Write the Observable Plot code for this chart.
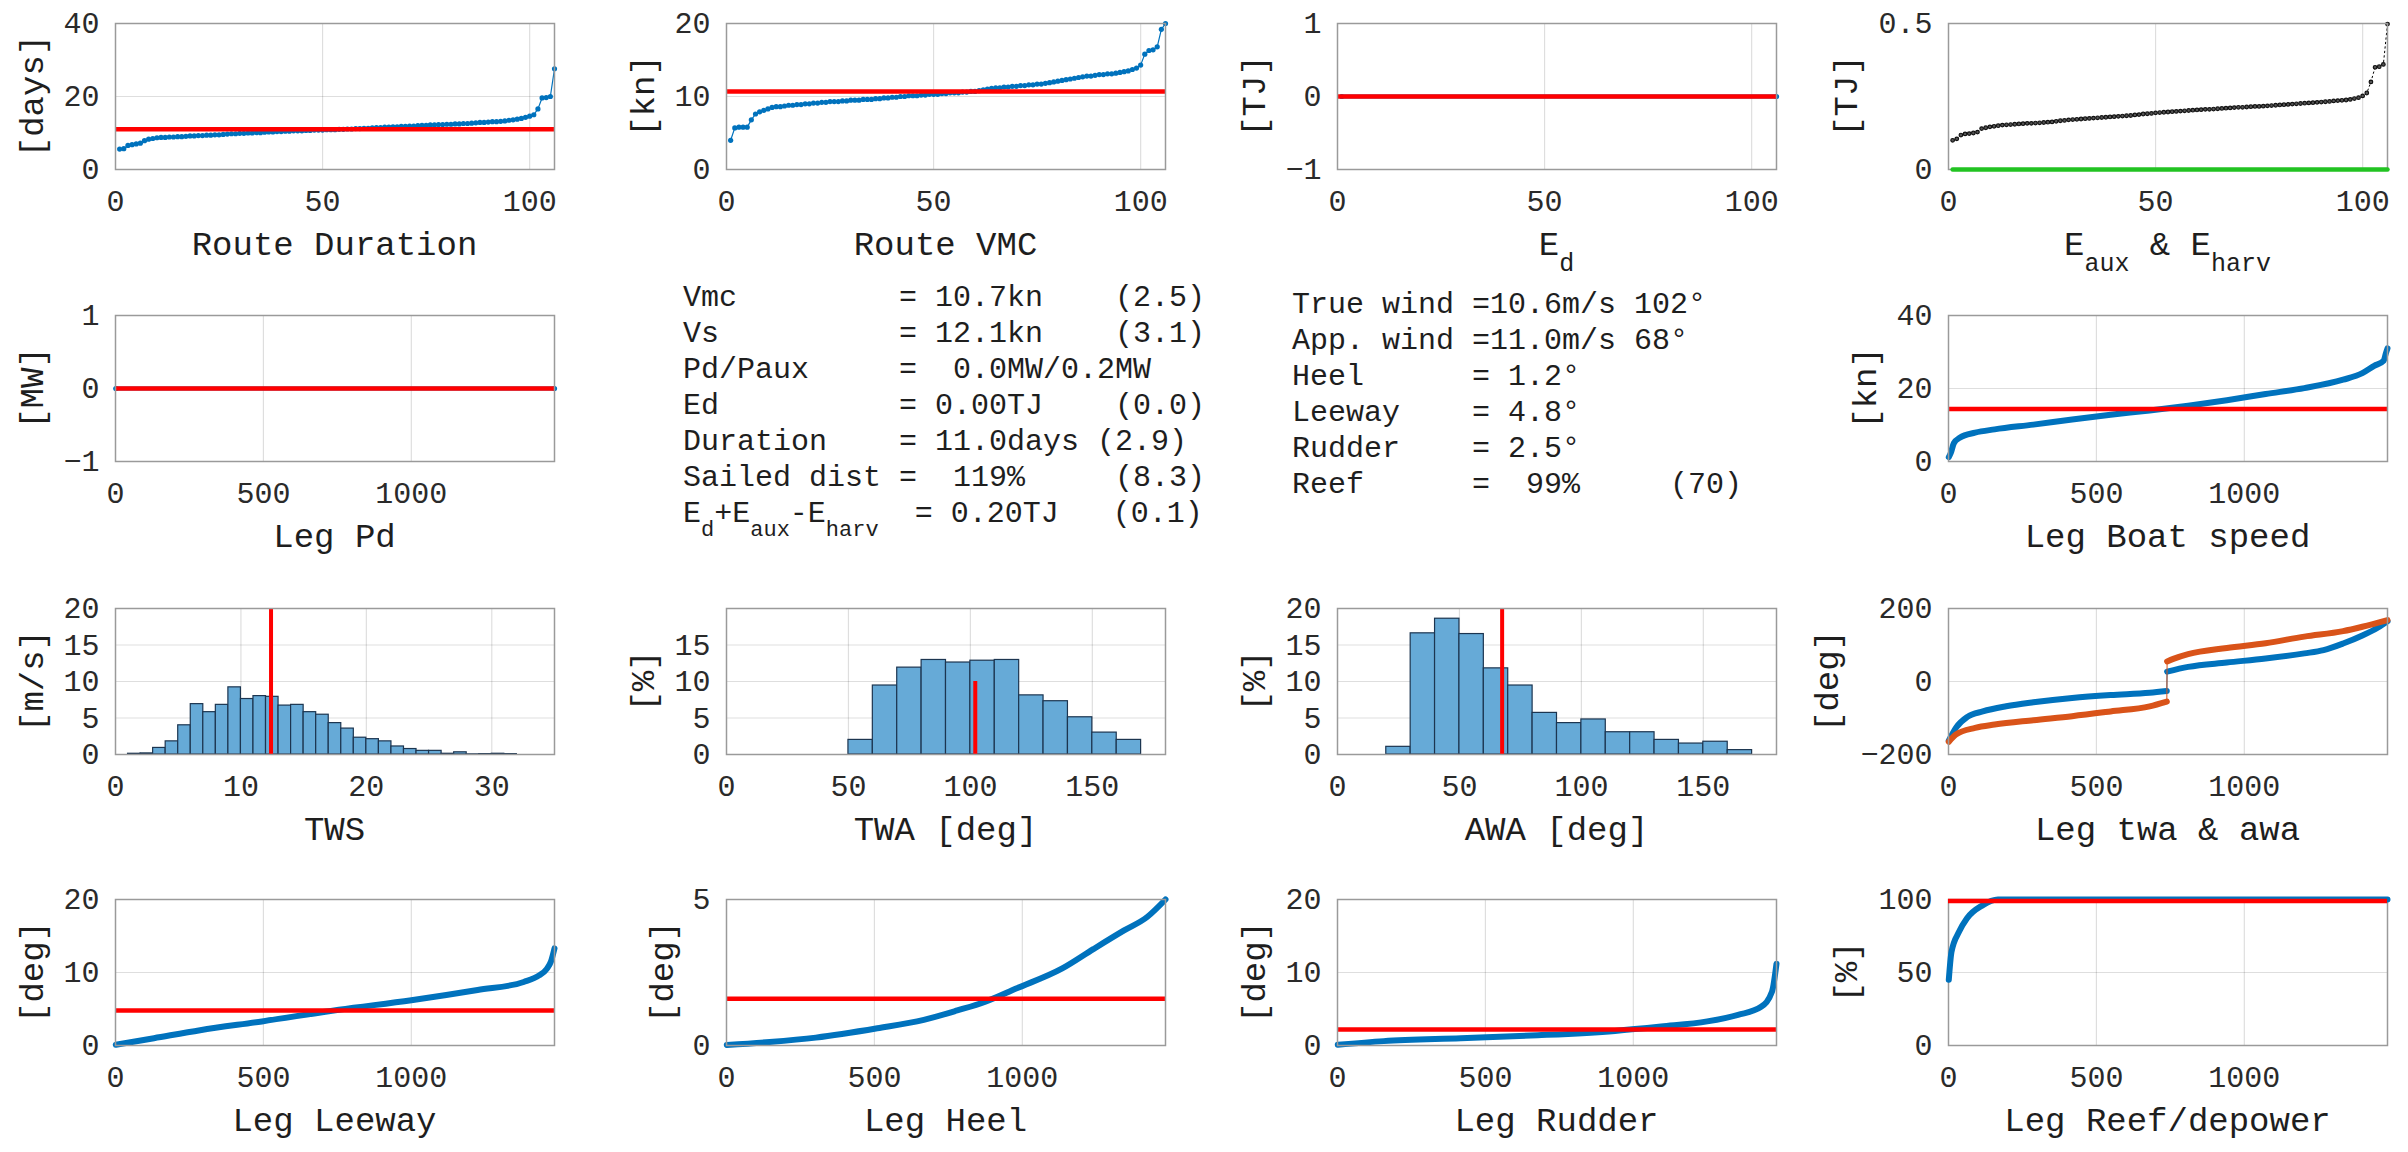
<!DOCTYPE html>
<html><head><meta charset="utf-8">
<script src="https://cdn.jsdelivr.net/npm/d3@7"></script>
<script src="https://cdn.jsdelivr.net/npm/@observablehq/plot@0.6"></script>
<style>
html,body{margin:0;padding:0;background:#fff;width:2408px;height:1152px;overflow:hidden;}
#fig{position:relative;width:2408px;height:1152px;background:#fff;}
</style></head><body><div id="fig"></div>
<script>
// ---------------- DATA ----------------
const routeDuration = [5.6,5.7,6.6,6.8,7.0,7.2,7.9,8.3,8.5,8.7,
 8.8,8.8,8.9,8.9,9.0,9.0,9.1,9.2,9.2,9.3,
 9.3,9.4,9.4,9.5,9.5,9.6,9.7,9.8,9.8,9.9,
 9.9,10.0,10.0,10.1,10.1,10.2,10.3,10.3,10.4,10.4,
 10.5,10.5,10.6,10.6,10.6,10.7,10.7,10.8,10.8,10.8,
 10.9,10.9,10.9,11.0,11.0,11.1,11.1,11.2,11.2,11.3,
 11.3,11.4,11.5,11.5,11.6,11.6,11.7,11.7,11.8,11.8,
 11.9,11.9,12.0,12.1,12.1,12.2,12.2,12.3,12.3,12.4,
 12.4,12.5,12.5,12.6,12.6,12.7,12.8,12.9,12.9,13.0,
 13.1,13.1,13.2,13.3,13.5,13.6,13.8,14.0,14.3,14.6,
 15.0,16.6,19.6,19.7,20.0,27.6];
const durationMean = 11.0;

const routeVMC = [4.0,5.7,5.8,5.8,5.8,6.8,7.6,7.9,8.1,8.3,
 8.5,8.6,8.6,8.7,8.8,8.8,8.9,8.9,9.0,9.0,
 9.1,9.1,9.2,9.2,9.3,9.3,9.3,9.4,9.4,9.5,
 9.5,9.5,9.6,9.6,9.6,9.7,9.7,9.8,9.8,9.9,
 9.9,10.0,10.0,10.1,10.1,10.1,10.2,10.2,10.3,10.3,
 10.3,10.4,10.4,10.5,10.5,10.5,10.6,10.6,10.7,10.7,
 10.8,10.9,11.0,11.1,11.2,11.2,11.3,11.3,11.4,11.4,
 11.5,11.5,11.6,11.6,11.7,11.7,11.8,11.9,12.0,12.1,
 12.2,12.3,12.4,12.5,12.6,12.7,12.8,12.8,12.9,13.0,
 13.0,13.1,13.1,13.2,13.3,13.4,13.5,13.7,13.9,14.3,
 15.8,16.3,16.4,16.8,19.2,20.0];
const vmcMean = 10.7;

const routeEdIdx = [1, 106];
const routeEdVal = [0, 0];
const edMean = 0;

const routeEaux = [0.100,0.105,0.118,0.122,0.123,0.125,0.128,0.140,0.143,0.146,
 0.148,0.150,0.152,0.153,0.154,0.155,0.156,0.157,0.158,0.158,
 0.159,0.160,0.161,0.162,0.163,0.165,0.167,0.168,0.170,0.171,
 0.172,0.173,0.174,0.175,0.176,0.177,0.178,0.179,0.180,0.181,
 0.182,0.183,0.184,0.185,0.187,0.188,0.190,0.191,0.192,0.194,
 0.195,0.196,0.197,0.198,0.199,0.200,0.201,0.202,0.203,0.204,
 0.205,0.206,0.206,0.207,0.208,0.209,0.210,0.211,0.212,0.213,
 0.213,0.214,0.215,0.216,0.216,0.217,0.218,0.219,0.220,0.221,
 0.222,0.223,0.224,0.225,0.226,0.227,0.228,0.229,0.230,0.231,
 0.232,0.233,0.235,0.236,0.237,0.238,0.240,0.243,0.246,0.252,
 0.262,0.300,0.350,0.352,0.360,0.498];
const routeEharvIdx = [1, 106];
const routeEharvVal = [0, 0];

const legN = 1484;
const legPdIdx = [1, 1484];
const legPdVal = [0, 0];
const pdMean = 0;

const boatIdx = [1, 8, 18, 38, 90, 156, 287, 418, 548, 680, 810, 941, 1072, 1203, 1334, 1399, 1439, 1471, 1478, 1484];
const boatVal = [1.2, 2.4, 5.0, 6.5, 7.9, 8.8, 10.1, 11.5, 12.8, 14.0, 15.3, 16.8, 18.5, 20.1, 22.4, 24.2, 26.2, 27.6, 29.5, 31.0];
const boatMean = 14.4;

const twsBinStart = [1,2,3,4,5,6,7,8,9,10,11,12,13,14,15,16,17,18,19,20,21,22,23,24,25,26,27,28,29,30,31];
const twsPct = [0.1,0.15,0.9,1.8,4.0,6.9,5.8,6.8,9.2,7.6,8.0,7.9,6.7,6.8,5.8,5.45,4.3,3.55,2.3,2.1,1.8,1.1,0.75,0.5,0.5,0.1,0.3,0.02,0.05,0.1,0.05];
const twsBinWidth = 1;
const twsMean = 12.4;

const twaBinStart = [50,60,70,80,90,100,110,120,130,140,150,160];
const twaPct = [2.0,9.45,11.9,12.95,12.6,12.85,12.95,8.1,7.3,5.1,3.0,2.0];
const twaBinWidth = 10;
const twaMean = 102, twaMeanHeight = 10;

const awaBinStart = [20,30,40,50,60,70,80,90,100,110,120,130,140,150,160];
const awaPct = [1.05,16.6,18.6,16.5,11.8,9.45,5.7,4.3,4.8,3.05,3.05,2.0,1.5,1.75,0.6];
const awaBinWidth = 10;
const awaMean = 67.5;

const twaLegIdx = [1, 25, 64, 116, 195, 287, 418, 548, 680, 738, 739, 810, 941, 1072, 1203, 1268, 1334, 1399, 1452, 1484];
const twaLegVal = [-162, -127, -97, -82, -68, -57, -45, -37, -31, -26, 27, 40, 52, 63, 77, 86, 104, 126, 148, 165];
const awaLegIdx = [1, 25, 90, 156, 287, 418, 548, 680, 738, 739, 760, 810, 941, 1072, 1203, 1334, 1399, 1484];
const awaLegVal = [-165, -145, -127, -118, -106, -95, -82, -68, -55, 55, 62, 75, 92, 105, 123, 138, 150, 168];
const tackIdx = 738;

const leewayIdx = [1, 130, 286, 495, 755, 1000, 1224, 1380, 1432, 1458, 1472, 1484];
const leewayVal = [0.1, 1.0, 2.1, 3.3, 4.9, 6.2, 7.6, 8.7, 9.6, 10.5, 11.5, 13.3];
const leewayMean = 4.8;

const heelIdx = [1, 146, 302, 510, 667, 780, 875, 979, 1135, 1240, 1344, 1422, 1484];
const heelVal = [0.02, 0.12, 0.27, 0.59, 0.88, 1.2, 1.5, 1.95, 2.64, 3.3, 3.94, 4.4, 5.0];
const heelMean = 1.6;

const rudderIdx = [1, 156, 417, 677, 938, 1094, 1250, 1354, 1432, 1469, 1484];
const rudderVal = [0.1, 0.6, 1.0, 1.4, 2.0, 2.6, 3.3, 4.2, 5.3, 7.4, 11.2];
const rudderMean = 2.2;

const reefIdx = [1, 10, 36, 62, 115, 167, 1484];
const reefVal = [45, 64, 78, 87, 96, 100, 100];
const reefMean = 99;

const statsLeft = [
 "Vmc         = 10.7kn    (2.5)",
 "Vs          = 12.1kn    (3.1)",
 "Pd/Paux     =  0.0MW/0.2MW",
 "Ed          = 0.00TJ    (0.0)",
 "Duration    = 11.0days (2.9)",
 "Sailed dist =  119%     (8.3)",
 "E_{d}+E_{aux}-E_{harv}  = 0.20TJ   (0.1)"
];
const statsRight = [
 "True wind =10.6m/s 102°",
 "App. wind =11.0m/s 68°",
 "Heel      = 1.2°",
 "Leeway    = 4.8°",
 "Rudder    = 2.5°",
 "Reef      =  99%     (70)"
];

// ---------------- LAYOUT / STYLE ----------------
const FONT = '"Courier New", "Liberation Mono", monospace';
const BLUE = "#0072BD", ORANGE = "#D95319", RED = "#FF0000", GREEN = "#22C322";
const HISTFILL = "#66AAD7", HISTEDGE = "#1c3550";
const COLS = [115, 726, 1337, 1948], ROWS = [23, 315, 608, 899], FW = 439, FH = 146;
const ML = 130, MR = 50, MT = 14, MB = 64;
const fig = document.getElementById("fig");
const fmt = d => (d < 0 ? "\u2212" + (-d) : String(d));
const labels = [];

const zipIdx = (idx, val) => idx.map((i, k) => ({i, v: val[k]}));
const seq = arr => arr.map((v, k) => ({i: k + 1, v}));
const bins = (start, pct, w) => start.map((s, k) => ({x1: s, x2: s + w, v: pct[k]}));

function panel(c, r, o) {
  const gx = o.xTicks.filter(t => t > o.xDomain[0] && t < o.xDomain[1]);
  const gy = o.yTicks.filter(t => t > o.yDomain[0] && t < o.yDomain[1]);
  const svg = Plot.plot({
    width: ML + FW + MR, height: MT + FH + MB,
    marginLeft: ML, marginRight: MR, marginTop: MT, marginBottom: MB,
    style: {background: "transparent", fontFamily: FONT, fontSize: "30px", color: "#2a2a2a", overflow: "visible"},
    x: {domain: o.xDomain, ticks: o.xTicks, tickSize: 0, tickPadding: 20, label: null, tickFormat: fmt},
    y: {domain: o.yDomain, ticks: o.yTicks, tickSize: 0, tickPadding: 16, label: null, tickFormat: fmt},
    marks: [
      Plot.ruleX(gx, {stroke: "#000", strokeOpacity: 0.13, strokeWidth: 1.2}),
      Plot.ruleY(gy, {stroke: "#000", strokeOpacity: 0.13, strokeWidth: 1.2}),
      ...o.marks,
      Plot.frame({stroke: "#9a9a9a", strokeWidth: 1.5}),
      ...(o.topMarks || [])
    ]
  });
  svg.style.position = "absolute";
  svg.style.left = (COLS[c] - ML) + "px";
  svg.style.top = (ROWS[r] - MT) + "px";
  fig.appendChild(svg);
  labels.push({c, r, xl: o.xLabel, yl: o.yLabel, yOff: 46 + 19 * Math.max(...o.yTicks.map(t => fmt(t).length))});
}

const routeX = {xDomain: [0, 106], xTicks: [0, 50, 100]};
const legX = {xDomain: [0, legN], xTicks: [0, 500, 1000]};
const routeMarks = (data, mean) => [
  Plot.line(data, {x: "i", y: "v", stroke: BLUE, strokeWidth: 1.2}),
  Plot.dot(data, {x: "i", y: "v", r: 2.6, fill: BLUE}),
  Plot.ruleY([mean], {stroke: RED, strokeWidth: 4.5})
];
const legMarks = (data, mean) => [
  Plot.line(data, {x: "i", y: "v", stroke: BLUE, strokeWidth: 6, curve: "monotone-x", strokeLinecap: "round"}),
  Plot.ruleY([mean], {stroke: RED, strokeWidth: 4.5})
];
const histMarks = (data) => [
  Plot.rectY(data, {x1: "x1", x2: "x2", y: "v", fill: HISTFILL, stroke: HISTEDGE, strokeWidth: 1.2})
];

// Row 1
panel(0, 0, {...routeX, yDomain: [0, 40], yTicks: [0, 20, 40], xLabel: "Route Duration", yLabel: "[days]",
  marks: routeMarks(seq(routeDuration), durationMean)});
panel(1, 0, {...routeX, yDomain: [0, 20], yTicks: [0, 10, 20], xLabel: "Route VMC", yLabel: "[kn]",
  marks: routeMarks(seq(routeVMC), vmcMean)});
panel(2, 0, {...routeX, yDomain: [-1, 1], yTicks: [-1, 0, 1], xLabel: "E_{d}", yLabel: "[TJ]",
  marks: [
    Plot.line(zipIdx(routeEdIdx, routeEdVal), {x: "i", y: "v", stroke: BLUE, strokeWidth: 4}),
    Plot.dot(zipIdx(routeEdIdx, routeEdVal), {x: "i", y: "v", r: 2.6, fill: BLUE}),
    Plot.ruleY([edMean], {stroke: RED, strokeWidth: 4.5})
  ]});
panel(3, 0, {...routeX, yDomain: [0, 0.5], yTicks: [0, 0.5], xLabel: "E_{aux} & E_{harv}", yLabel: "[TJ]",
  marks: [
    Plot.line(seq(routeEaux), {x: "i", y: "v", stroke: "#000", strokeWidth: 1, strokeDasharray: "1.5,3"}),
    Plot.dot(seq(routeEaux), {x: "i", y: "v", r: 1.8, stroke: "#111", strokeWidth: 1.2, fill: "#555"})
  ],
  topMarks: [
    Plot.line(zipIdx(routeEharvIdx, routeEharvVal), {x: "i", y: "v", stroke: GREEN, strokeWidth: 4.5})
  ]});

// Row 2
panel(0, 1, {...legX, yDomain: [-1, 1], yTicks: [-1, 0, 1], xLabel: "Leg Pd", yLabel: "[MW]",
  marks: [
    Plot.line(zipIdx(legPdIdx, legPdVal), {x: "i", y: "v", stroke: BLUE, strokeWidth: 4}),
    Plot.dot(zipIdx(legPdIdx, legPdVal), {x: "i", y: "v", r: 2.6, fill: BLUE}),
    Plot.ruleY([pdMean], {stroke: RED, strokeWidth: 4.5})
  ]});
panel(3, 1, {...legX, yDomain: [0, 40], yTicks: [0, 20, 40], xLabel: "Leg Boat speed", yLabel: "[kn]",
  marks: legMarks(zipIdx(boatIdx, boatVal), boatMean)});

// Row 3
panel(0, 2, {xDomain: [0, 35], xTicks: [0, 10, 20, 30], yDomain: [0, 20], yTicks: [0, 5, 10, 15, 20], xLabel: "TWS", yLabel: "[m/s]",
  marks: [...histMarks(bins(twsBinStart, twsPct, twsBinWidth)), Plot.ruleX([twsMean], {stroke: RED, strokeWidth: 4})]});
panel(1, 2, {xDomain: [0, 180], xTicks: [0, 50, 100, 150], yDomain: [0, 20], yTicks: [0, 5, 10, 15], xLabel: "TWA [deg]", yLabel: "[%]",
  marks: [...histMarks(bins(twaBinStart, twaPct, twaBinWidth)),
    Plot.ruleX([{x: twaMean, h: twaMeanHeight}], {x: "x", y1: 0, y2: "h", stroke: RED, strokeWidth: 4})]});
panel(2, 2, {xDomain: [0, 180], xTicks: [0, 50, 100, 150], yDomain: [0, 20], yTicks: [0, 5, 10, 15, 20], xLabel: "AWA [deg]", yLabel: "[%]",
  marks: [...histMarks(bins(awaBinStart, awaPct, awaBinWidth)), Plot.ruleX([awaMean], {stroke: RED, strokeWidth: 4})]});
const twaLeg = zipIdx(twaLegIdx, twaLegVal).map(d => ({...d, seg: d.i > tackIdx ? 1 : 0}));
const awaLeg = zipIdx(awaLegIdx, awaLegVal).map(d => ({...d, seg: d.i > tackIdx ? 1 : 0}));
const jump = arr => arr.filter((d, k) => (d.seg === 0 && arr[k + 1] && arr[k + 1].seg === 1) || (d.seg === 1 && arr[k - 1] && arr[k - 1].seg === 0));
panel(3, 2, {...legX, yDomain: [-200, 200], yTicks: [-200, 0, 200], xLabel: "Leg twa & awa", yLabel: "[deg]",
  marks: [
    Plot.line(twaLeg, {x: "i", y: "v", z: "seg", stroke: BLUE, strokeWidth: 6, curve: "monotone-x", strokeLinecap: "round"}),
    Plot.line(jump(twaLeg), {x: "i", y: "v", stroke: BLUE, strokeWidth: 1}),
    Plot.line(awaLeg, {x: "i", y: "v", z: "seg", stroke: ORANGE, strokeWidth: 6, curve: "monotone-x", strokeLinecap: "round"}),
    Plot.line(jump(awaLeg), {x: "i", y: "v", stroke: ORANGE, strokeWidth: 1})
  ]});

// Row 4
panel(0, 3, {...legX, yDomain: [0, 20], yTicks: [0, 10, 20], xLabel: "Leg Leeway", yLabel: "[deg]",
  marks: legMarks(zipIdx(leewayIdx, leewayVal), leewayMean)});
panel(1, 3, {...legX, yDomain: [0, 5], yTicks: [0, 5], xLabel: "Leg Heel", yLabel: "[deg]",
  marks: legMarks(zipIdx(heelIdx, heelVal), heelMean)});
panel(2, 3, {...legX, yDomain: [0, 20], yTicks: [0, 10, 20], xLabel: "Leg Rudder", yLabel: "[deg]",
  marks: legMarks(zipIdx(rudderIdx, rudderVal), rudderMean)});
panel(3, 3, {...legX, yDomain: [0, 100], yTicks: [0, 50, 100], xLabel: "Leg Reef/depower", yLabel: "[%]",
  marks: [],
  topMarks: [
    Plot.line(zipIdx(reefIdx, reefVal), {x: "i", y: "v", stroke: BLUE, strokeWidth: 6, curve: "monotone-x", strokeLinecap: "round"}),
    Plot.ruleY([reefMean], {stroke: RED, strokeWidth: 4.5})
  ]});

// ---------------- TEXT OVERLAY ----------------
const ov = d3.select(fig).append("svg")
  .attr("width", 2408).attr("height", 1152)
  .style("position", "absolute").style("left", "0px").style("top", "0px")
  .style("font-family", FONT).attr("fill", "#1e1e1e");

function rich(textSel, str, size, subSize, drop) {
  const parts = str.split(/(_\{[^}]*\})/).filter(s => s.length);
  let inSub = false;
  for (const p of parts) {
    if (p.startsWith("_{")) {
      textSel.append("tspan").attr("font-size", subSize).attr("dy", inSub ? 0 : drop).text(p.slice(2, -1));
      inSub = true;
    } else {
      textSel.append("tspan").attr("font-size", size).attr("dy", inSub ? -drop : 0).text(p);
      inSub = false;
    }
  }
}

for (const L of labels) {
  const t = ov.append("text")
    .attr("x", COLS[L.c] + FW / 2).attr("y", ROWS[L.r] + FH + 86)
    .attr("text-anchor", "middle").style("white-space", "pre");
  rich(t, L.xl, 34, 25, 16);
  ov.append("text")
    .attr("transform", `translate(${COLS[L.c] - L.yOff},${ROWS[L.r] + FH / 2}) rotate(-90)`)
    .attr("text-anchor", "middle").attr("dy", "0.35em").attr("font-size", 34)
    .style("white-space", "pre").text(L.yl);
}

statsLeft.forEach((s, k) => {
  const t = ov.append("text").attr("x", 683).attr("y", 306 + 36 * k).style("white-space", "pre");
  rich(t, s, 30, 22, 14);
});
statsRight.forEach((s, k) => {
  const t = ov.append("text").attr("x", 1292).attr("y", 313 + 36 * k).style("white-space", "pre");
  rich(t, s, 30, 22, 14);
});
</script></body></html>
